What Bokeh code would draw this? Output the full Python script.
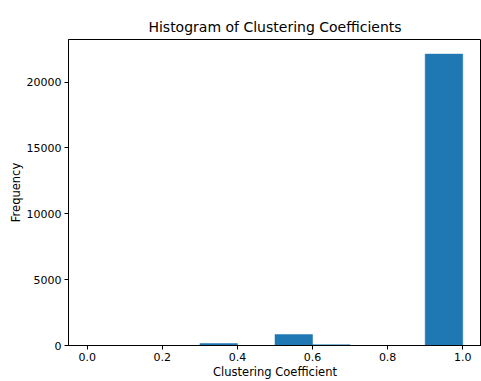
from bokeh.plotting import figure
from bokeh.models import FixedTicker, Range1d
from bokeh.embed import file_html
from bokeh.resources import INLINE

bin_left = [0.0, 0.1, 0.2, 0.3, 0.4, 0.5, 0.6, 0.7, 0.8, 0.9]
bin_right = [0.1, 0.2, 0.3, 0.4, 0.5, 0.6, 0.7, 0.8, 0.9, 1.0]
counts = [0, 0, 0, 150, 0, 830, 60, 0, 0, 22120]
x_ticks = [0.0, 0.2, 0.4, 0.6, 0.8, 1.0]
x_tick_labels = ["0.0", "0.2", "0.4", "0.6", "0.8", "1.0"]
y_ticks = [0, 5000, 10000, 15000, 20000]

FONT = "DejaVu Sans"

p = figure(width=481, height=381, output_backend="svg", toolbar_location=None,
           title="Histogram of Clustering Coefficients",
           x_range=Range1d(-0.05, 1.05), y_range=Range1d(0, 23230),
           min_border_left=68, min_border_right=0, min_border_top=39, min_border_bottom=0,
           border_fill_color="#ffffff")

p.quad(left=bin_left, right=bin_right, bottom=0, top=counts,
       fill_color="#1f77b4", line_color="#1f77b4", line_width=0.5)

p.title.align = "center"
p.title.text_font = FONT
p.title.text_font_size = "14px"
p.title.text_font_style = "normal"
p.title.text_color = "#000000"

p.xgrid.visible = False
p.ygrid.visible = False
p.outline_line_color = "#000000"
p.outline_line_width = 1

p.xaxis.ticker = FixedTicker(ticks=x_ticks)
p.xaxis.major_label_overrides = {t: l for t, l in zip(x_ticks, x_tick_labels)}
p.yaxis.ticker = FixedTicker(ticks=y_ticks)
p.xaxis.axis_label = "Clustering Coefficient"
p.yaxis.axis_label = "Frequency"

for ax in (p.xaxis[0], p.yaxis[0]):
    ax.axis_line_color = "#000000"
    ax.major_tick_line_color = "#000000"
    ax.major_tick_out = 4
    ax.major_tick_in = 0
    ax.minor_tick_line_color = None
    ax.major_label_text_font = FONT
    ax.major_label_text_font_size = "11px"
    ax.major_label_text_color = "#000000"
    ax.axis_label_text_font = FONT
    ax.axis_label_text_font_size = "11.5px"
    ax.axis_label_text_font_style = "normal"
    ax.axis_label_text_color = "#000000"
    ax.axis_label_standoff = 1
    ax.major_label_standoff = 3

open("out.html", "w").write(file_html(p, INLINE))
